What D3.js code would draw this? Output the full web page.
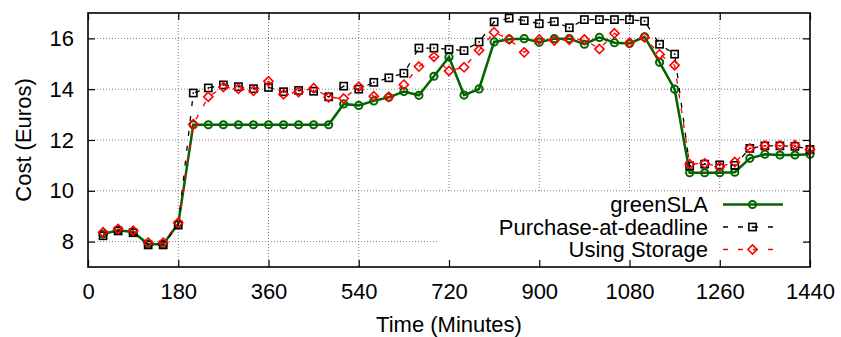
<!DOCTYPE html>
<html>
<head>
<meta charset="utf-8">
<script src="https://cdn.jsdelivr.net/npm/d3@7"></script>
<style>
  html, body { margin: 0; padding: 0; background: #fff; }
  svg { display: block; font-family: "Liberation Sans", Arial, Helvetica, sans-serif; }
</style>
</head>
<body>
<svg id="chart" width="841" height="337"></svg>
<script>
// Time of each sample (minutes)
const times = [30, 60, 90, 120, 150, 180, 210, 240, 270, 300, 330, 360,
  390, 420, 450, 480, 510, 540, 570, 600, 630, 660, 690, 720,
  750, 780, 810, 840, 870, 900, 930, 960, 990, 1020, 1050, 1080,
  1110, 1140, 1170, 1200, 1230, 1260, 1290, 1320, 1350, 1380, 1410, 1440];

// Cost per interval (Euros)
const greenSLA = [8.30, 8.45, 8.38, 7.90, 7.90, 8.70, 12.60, 12.60, 12.60, 12.60, 12.60, 12.60,
  12.60, 12.60, 12.60, 12.60, 13.42, 13.36, 13.54, 13.68, 13.91, 13.76, 14.51, 15.27,
  13.77, 14.01, 15.86, 15.97, 15.99, 15.85, 15.99, 15.99, 15.77, 16.04, 15.83, 15.80,
  16.06, 15.06, 14.00, 10.71, 10.71, 10.71, 10.73, 11.28, 11.44, 11.41, 11.41, 11.44];

const purchaseAtDeadline = [8.23, 8.42, 8.35, 7.87, 7.87, 8.65, 13.85, 14.05, 14.17, 14.10, 14.02, 14.07,
  13.90, 13.95, 13.92, 13.70, 14.12, 14.00, 14.27, 14.45, 14.63, 15.62, 15.62, 15.57,
  15.52, 15.86, 16.65, 16.80, 16.70, 16.58, 16.66, 16.42, 16.74, 16.74, 16.74, 16.74,
  16.68, 15.77, 15.38, 10.98, 11.05, 11.02, 11.00, 11.67, 11.77, 11.77, 11.75, 11.63];

const usingStorage = [8.37, 8.50, 8.43, 7.96, 7.96, 8.74, 12.62, 13.70, 14.09, 14.02, 13.94, 14.31,
  13.80, 13.89, 14.04, 13.68, 13.63, 14.10, 13.72, 13.70, 14.18, 14.89, 15.28, 14.72,
  14.86, 15.53, 16.24, 15.97, 15.45, 15.96, 15.92, 15.95, 15.96, 15.58, 16.20, 15.83,
  16.04, 15.37, 14.94, 11.05, 11.08, 10.95, 11.13, 11.67, 11.78, 11.78, 11.80, 11.63];

const xTicks = [0, 180, 360, 540, 720, 900, 1080, 1260, 1440];
const yTicks = [8, 10, 12, 14, 16];
const seriesNames = ["greenSLA", "Purchase-at-deadline", "Using Storage"];

const svg = d3.select("#chart");
const L = 88, R = 810, T = 13, B = 267;
const x = d3.scaleLinear().domain([0, 1440]).range([L, R]);
const y = d3.scaleLinear().domain([7, 17]).range([B, T]);
const fontSize = 22;
const fmt = d3.format("d");

// grid
const grid = svg.append("g").attr("stroke", "#808080").attr("stroke-width", 1)
  .attr("stroke-dasharray", "1,2");
xTicks.slice(1, -1).forEach(t => {
  grid.append("line").attr("x1", x(t)).attr("x2", x(t)).attr("y1", T).attr("y2", B);
});
yTicks.forEach(v => {
  grid.append("line").attr("x1", L).attr("x2", R).attr("y1", y(v)).attr("y2", y(v));
});

const series = [
  { name: seriesNames[0], values: greenSLA, color: "#006400", width: 2.5, dash: null, shape: "circle" },
  { name: seriesNames[1], values: purchaseAtDeadline, color: "#000000", width: 1.3, dash: "5,10", shape: "square" },
  { name: seriesNames[2], values: usingStorage, color: "#ff0000", width: 1.3, dash: "5,10", shape: "diamond" }
];

function marker(g, shape, cx, cy, color) {
  if (shape === "circle") {
    g.append("circle").attr("cx", cx).attr("cy", cy).attr("r", 3.6)
      .attr("fill", "none").attr("stroke", color).attr("stroke-width", 2);
  } else if (shape === "square") {
    g.append("rect").attr("x", cx - 3.6).attr("y", cy - 3.6).attr("width", 7.2).attr("height", 7.2)
      .attr("fill", "none").attr("stroke", color).attr("stroke-width", 1.6);
    g.append("rect").attr("x", cx - 0.8).attr("y", cy - 0.8).attr("width", 1.6).attr("height", 1.6)
      .attr("fill", color);
  } else {
    const s = 4.6;
    g.append("path").attr("d", `M${cx},${cy - s}L${cx + s},${cy}L${cx},${cy + s}L${cx - s},${cy}Z`)
      .attr("fill", "none").attr("stroke", color).attr("stroke-width", 1.6);
  }
}

const line = d3.line().x(d => x(d[0])).y(d => y(d[1]));
series.forEach(s => {
  const pts = times.map((t, i) => [t, s.values[i]]);
  const g = svg.append("g");
  g.append("path").attr("d", line(pts)).attr("fill", "none")
    .attr("stroke", s.color).attr("stroke-width", s.width)
    .attr("stroke-dasharray", s.dash);
  pts.forEach(p => marker(g, s.shape, x(p[0]), y(p[1]), s.color));
});

// legend (opaque box covers grid)
const lg = svg.append("g");
lg.append("rect").attr("x", 438).attr("y", 193).attr("width", 365).attr("height", B - 193 - 1)
  .attr("fill", "#fff");
const rowY = [204.5, 227, 249.5];
series.forEach((s, i) => {
  lg.append("text").attr("x", 708).attr("y", rowY[i]).attr("dy", "0.35em")
    .attr("text-anchor", "end").attr("font-size", fontSize).text(s.name);
  lg.append("line").attr("x1", 723).attr("x2", 783).attr("y1", rowY[i]).attr("y2", rowY[i])
    .attr("stroke", s.color).attr("stroke-width", s.width).attr("stroke-dasharray", s.dash);
  marker(lg, s.shape, 752.5, rowY[i], s.color);
});

// axes with inward ticks on all sides
const axB = svg.append("g").attr("transform", `translate(0,${B})`)
  .call(d3.axisBottom(x).tickValues(xTicks).tickFormat(fmt).tickSizeInner(-7).tickSizeOuter(0).tickPadding(16));
const axT = svg.append("g").attr("transform", `translate(0,${T})`)
  .call(d3.axisTop(x).tickValues(xTicks).tickSizeInner(-7).tickSizeOuter(0).tickFormat(""));
const axL = svg.append("g").attr("transform", `translate(${L},0)`)
  .call(d3.axisLeft(y).tickValues(yTicks).tickFormat(fmt).tickSizeInner(-7).tickSizeOuter(0).tickPadding(14));
const axR = svg.append("g").attr("transform", `translate(${R},0)`)
  .call(d3.axisRight(y).tickValues(yTicks).tickSizeInner(-7).tickSizeOuter(0).tickFormat(""));
[axB, axT, axL, axR].forEach(a => {
  a.select(".domain").remove();
  a.selectAll("line").attr("stroke", "#000").attr("stroke-width", 1.2);
  a.selectAll("text").attr("font-size", fontSize).attr("fill", "#000")
    .attr("font-family", "Liberation Sans, Arial, sans-serif");
});

// frame
svg.append("rect").attr("x", L).attr("y", T).attr("width", R - L).attr("height", B - T)
  .attr("fill", "none").attr("stroke", "#000").attr("stroke-width", 1.6);

// axis titles
svg.append("text").attr("x", (L + R) / 2).attr("y", 332).attr("text-anchor", "middle")
  .attr("font-size", fontSize).text("Time (Minutes)");
svg.append("text").attr("transform", `translate(31,${(T + B) / 2}) rotate(-90)`)
  .attr("text-anchor", "middle").attr("font-size", fontSize).text("Cost (Euros)");
</script>
</body>
</html>
